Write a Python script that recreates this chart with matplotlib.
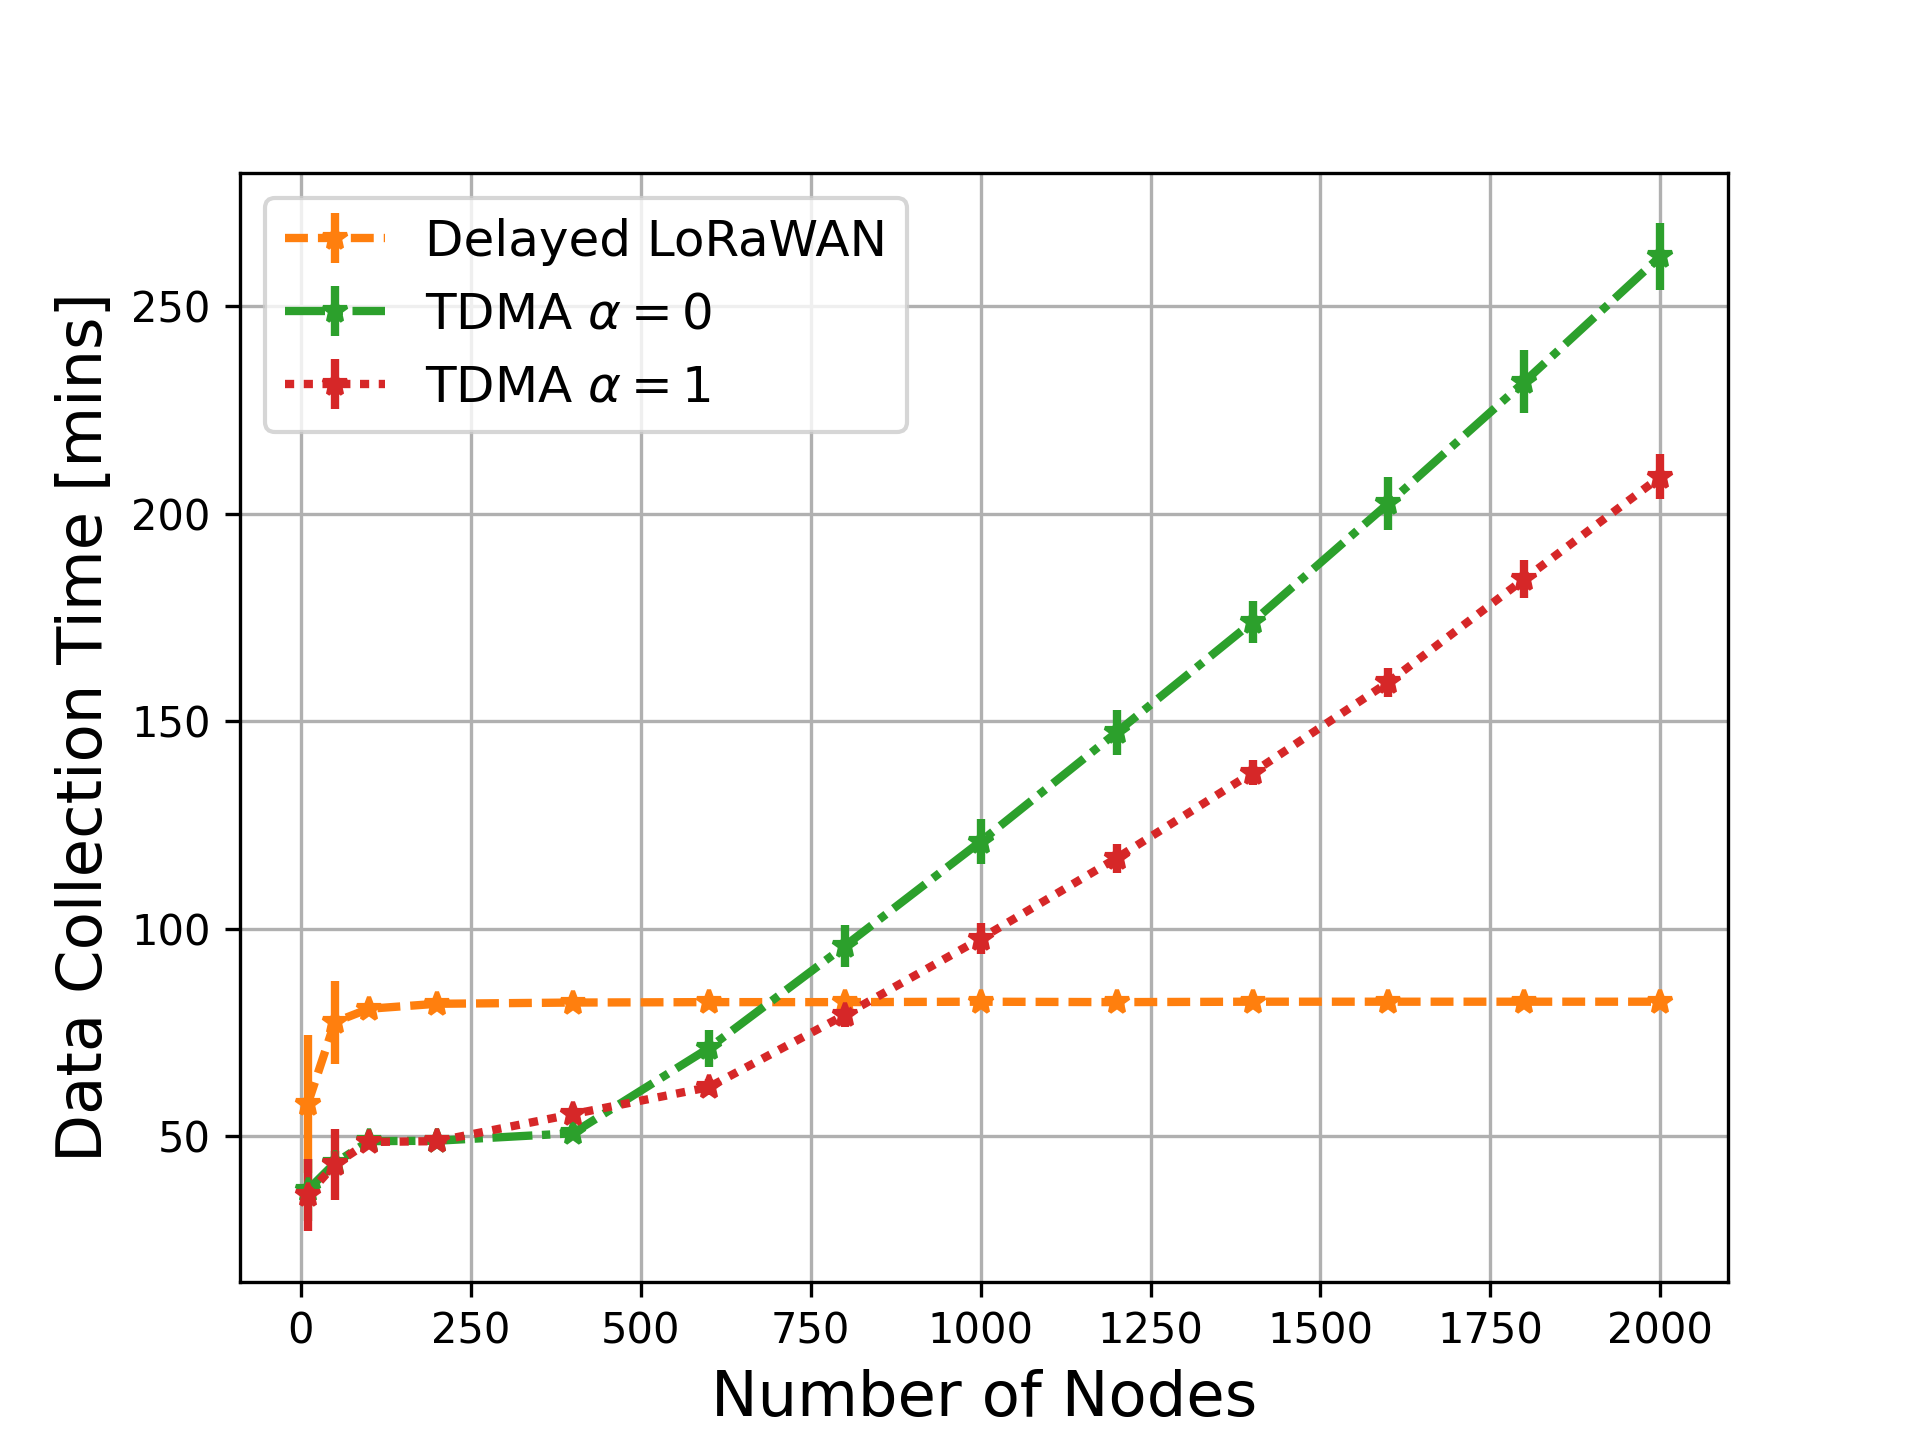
import numpy as np
import matplotlib
matplotlib.use('Agg')
import matplotlib.pyplot as plt

# ==== data ====
nodes = [10, 50, 100, 200, 400, 600, 800, 1000, 1200, 1400, 1600, 1800, 2000]

lorawan_mean = [57.7, 77.5, 80.7, 81.9, 82.2, 82.3, 82.3, 82.4, 82.3, 82.4, 82.4, 82.4, 82.4]
lorawan_err = [16.6, 10.0, 1.5, 0.8, 0.6, 0.6, 0.6, 0.6, 0.6, 0.6, 0.6, 0.6, 0.6]

tdma0_mean = [37.0, 43.5, 48.8, 48.9, 50.7, 71.2, 95.8, 121.0, 147.3, 173.9, 202.5, 231.8, 262.0]
tdma0_err = [7.5, 3.0, 1.0, 0.8, 1.5, 4.5, 5.1, 5.5, 5.5, 5.0, 6.4, 7.6, 8.0]

tdma1_mean = [35.8, 43.2, 48.6, 48.8, 55.3, 61.8, 79.2, 97.6, 117.0, 137.6, 159.4, 184.3, 208.9]
tdma1_err = [8.7, 8.5, 1.0, 0.8, 1.5, 2.0, 3.0, 3.7, 3.5, 3.0, 3.5, 4.5, 5.4]

labels = ['Delayed LoRaWAN', r'TDMA $\alpha = 0$', r'TDMA $\alpha = 1$']

# dash patterns in points (not scaled by linewidth)
plt.rcParams['lines.scale_dashes'] = False

# ==== plot ====
fig, ax = plt.subplots(figsize=(6.4, 4.8), dpi=300)

ax.errorbar(nodes, lorawan_mean, yerr=lorawan_err, color='tab:orange',
            dashes=(5.5, 2.4), lw=2, marker='*', ms=6, elinewidth=2,
            label=labels[0])
ax.errorbar(nodes, tdma0_mean, yerr=tdma0_err, color='tab:green',
            dashes=(9.6, 2.3, 2.0, 2.3), lw=2, marker='*', ms=6, elinewidth=2,
            label=labels[1])
ax.errorbar(nodes, tdma1_mean, yerr=tdma1_err, color='tab:red',
            dashes=(2.2, 2.3), lw=2, marker='*', ms=6, elinewidth=2,
            label=labels[2])

ax.set_xlabel('Number of Nodes', fontsize=15)
ax.set_ylabel('Data Collection Time [mins]', fontsize=15)
ax.grid(True)
ax.legend(loc='upper left', fontsize=12)

fig.savefig('out.png', dpi=300)
